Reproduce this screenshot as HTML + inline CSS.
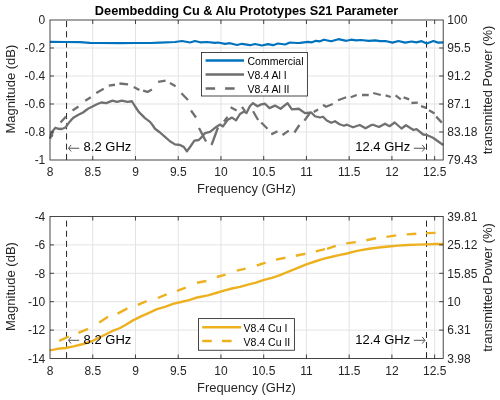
<!DOCTYPE html><html><head><meta charset="utf-8"><style>html,body{margin:0;padding:0;background:#fff;width:500px;height:400px;overflow:hidden}svg{display:block;will-change:transform}</style></head><body>
<svg width="500" height="400" viewBox="0 0 500 400" font-family="'Liberation Sans', sans-serif">
<rect width="500" height="400" fill="#fff"/>
<line x1="92.74" y1="20.0" x2="92.74" y2="160.0" stroke="#e3e3e3" stroke-width="1"/>
<line x1="135.48" y1="20.0" x2="135.48" y2="160.0" stroke="#e3e3e3" stroke-width="1"/>
<line x1="178.22" y1="20.0" x2="178.22" y2="160.0" stroke="#e3e3e3" stroke-width="1"/>
<line x1="220.96" y1="20.0" x2="220.96" y2="160.0" stroke="#e3e3e3" stroke-width="1"/>
<line x1="263.69" y1="20.0" x2="263.69" y2="160.0" stroke="#e3e3e3" stroke-width="1"/>
<line x1="306.43" y1="20.0" x2="306.43" y2="160.0" stroke="#e3e3e3" stroke-width="1"/>
<line x1="349.17" y1="20.0" x2="349.17" y2="160.0" stroke="#e3e3e3" stroke-width="1"/>
<line x1="391.91" y1="20.0" x2="391.91" y2="160.0" stroke="#e3e3e3" stroke-width="1"/>
<line x1="434.65" y1="20.0" x2="434.65" y2="160.0" stroke="#e3e3e3" stroke-width="1"/>
<line x1="50.0" y1="48.00" x2="443.2" y2="48.00" stroke="#e3e3e3" stroke-width="1"/>
<line x1="50.0" y1="76.00" x2="443.2" y2="76.00" stroke="#e3e3e3" stroke-width="1"/>
<line x1="50.0" y1="104.00" x2="443.2" y2="104.00" stroke="#e3e3e3" stroke-width="1"/>
<line x1="50.0" y1="132.00" x2="443.2" y2="132.00" stroke="#e3e3e3" stroke-width="1"/>
<line x1="92.74" y1="216.5" x2="92.74" y2="358.5" stroke="#e3e3e3" stroke-width="1"/>
<line x1="135.48" y1="216.5" x2="135.48" y2="358.5" stroke="#e3e3e3" stroke-width="1"/>
<line x1="178.22" y1="216.5" x2="178.22" y2="358.5" stroke="#e3e3e3" stroke-width="1"/>
<line x1="220.96" y1="216.5" x2="220.96" y2="358.5" stroke="#e3e3e3" stroke-width="1"/>
<line x1="263.69" y1="216.5" x2="263.69" y2="358.5" stroke="#e3e3e3" stroke-width="1"/>
<line x1="306.43" y1="216.5" x2="306.43" y2="358.5" stroke="#e3e3e3" stroke-width="1"/>
<line x1="349.17" y1="216.5" x2="349.17" y2="358.5" stroke="#e3e3e3" stroke-width="1"/>
<line x1="391.91" y1="216.5" x2="391.91" y2="358.5" stroke="#e3e3e3" stroke-width="1"/>
<line x1="434.65" y1="216.5" x2="434.65" y2="358.5" stroke="#e3e3e3" stroke-width="1"/>
<line x1="50.0" y1="244.90" x2="443.2" y2="244.90" stroke="#e3e3e3" stroke-width="1"/>
<line x1="50.0" y1="273.30" x2="443.2" y2="273.30" stroke="#e3e3e3" stroke-width="1"/>
<line x1="50.0" y1="301.70" x2="443.2" y2="301.70" stroke="#e3e3e3" stroke-width="1"/>
<line x1="50.0" y1="330.10" x2="443.2" y2="330.10" stroke="#e3e3e3" stroke-width="1"/>
<line x1="66.55" y1="21.0" x2="66.55" y2="160.0" stroke="#262626" stroke-width="1" stroke-dasharray="6.15 4.07"/>
<line x1="426.5" y1="21.0" x2="426.5" y2="160.0" stroke="#262626" stroke-width="1" stroke-dasharray="6.15 4.07"/>
<line x1="66.55" y1="220.6" x2="66.55" y2="358.5" stroke="#262626" stroke-width="1" stroke-dasharray="6.1 4.02"/>
<line x1="426.5" y1="220.6" x2="426.5" y2="358.5" stroke="#262626" stroke-width="1" stroke-dasharray="6.1 4.02"/>
<polyline points="50.00,41.80 65.00,42.00 80.00,42.20 90.00,42.80 100.00,43.00 120.00,43.20 135.00,43.00 150.00,43.00 160.00,42.60 175.00,42.00 182.00,41.00 190.00,42.50 195.00,41.00 200.00,42.30 207.00,42.00 215.00,42.80 218.00,42.50 225.00,43.80 230.00,43.20 237.00,45.00 242.00,43.80 250.00,45.20 255.00,44.00 262.00,45.50 268.00,44.20 273.00,45.20 278.00,43.50 285.00,44.50 290.00,42.50 297.00,43.00 300.00,42.90 308.00,41.90 312.00,42.30 316.00,40.80 320.00,41.30 324.00,39.70 331.20,41.30 338.40,39.20 346.40,40.80 351.20,39.70 356.00,40.30 360.80,40.00 368.80,40.80 375.20,40.30 380.00,41.20 385.30,41.00 392.50,42.60 398.50,41.00 405.00,42.60 411.70,41.50 416.30,42.30 421.60,41.20 426.80,43.60 433.40,41.00 438.00,42.60 443.20,42.30" fill="none" stroke="#0072BD" stroke-width="2.2" stroke-linejoin="round"/>
<polyline points="50.25,138.75 51.10,133.75 52.00,136.00 52.40,131.25 55.50,127.75 58.00,128.75 61.75,129.00 65.50,127.50 68.60,123.10 73.00,118.10 78.00,115.00 83.00,112.50 88.00,108.75 93.00,106.25 98.00,103.75 101.25,102.50 106.25,103.10 112.50,100.60 116.90,101.90 121.90,100.60 127.50,101.90 131.90,101.25 135.00,106.25 138.75,111.90 145.00,118.10 150.00,121.90 152.50,125.00 155.00,128.75 160.00,132.50 165.00,136.90 170.00,141.25 175.00,144.40 180.00,145.00 183.75,146.90 186.90,151.25 190.60,146.25 194.40,140.60 198.75,140.00 201.90,136.90 205.00,133.10 210.00,131.90 216.25,126.90 220.00,124.60 223.00,126.40 227.50,120.00 232.00,117.60 236.00,120.40 240.00,114.00 244.00,111.60 246.50,113.00 250.00,106.00 253.00,103.20 257.50,106.25 261.25,104.40 265.00,103.75 269.40,108.10 275.00,105.60 280.60,108.75 287.50,103.10 291.90,109.40 298.75,108.75 305.00,113.10 311.25,112.50 315.00,116.25 320.00,117.50 323.00,116.75 326.75,120.50 331.25,122.75 335.00,121.25 339.50,124.25 344.00,125.75 347.00,124.70 353.00,127.25 359.75,125.00 365.50,128.30 371.00,125.20 373.00,124.75 379.00,127.00 385.00,123.70 389.50,126.20 394.70,122.50 401.50,128.50 406.00,125.20 413.50,130.00 416.50,129.20 423.20,134.50 426.20,134.80 433.00,137.80 443.20,145.00" fill="none" stroke="#707070" stroke-width="2.3" stroke-linejoin="round"/>
<path d="M60.50 122.50 L66.00 116.50 M72.50 110.50 L78.50 106.50 M85.20 100.80 L90.80 97.30 M96.25 93.10 L103.75 88.75 M108.75 85.60 L115.00 84.75 M119.40 83.50 L128.10 84.40 M133.75 86.90 L139.40 90.00 M143.10 90.60 L147.50 91.90 L151.90 89.40 M158.10 81.90 L165.60 80.60 M170.00 83.10 L175.60 86.25 M181.40 93.30 L188.00 100.00 M191.00 110.50 L196.00 117.50 M199.00 128.00 L206.00 141.50 M211.50 145.00 L218.00 127.50 M224.00 121.50 L227.50 116.90 M230.60 107.20 L236.60 110.40 M242.00 106.80 L245.00 111.20 M253.10 111.25 L258.10 120.00 M261.25 122.50 L267.50 128.75 M271.25 134.40 L277.50 131.25 M282.50 135.00 L288.75 130.60 M294.40 132.50 L299.40 125.00 M304.40 120.60 L309.40 113.75 M313.75 111.90 L318.10 109.40 M323.00 104.75 L326.00 106.70 L332.75 104.00 M338.00 100.25 L346.25 97.25 M350.75 97.25 L356.75 95.00 M362.00 95.00 L368.75 95.00 M373.20 93.00 L380.80 95.00 M385.60 95.40 L390.80 97.00 M395.60 95.40 L400.80 99.40 M403.60 97.40 L409.20 99.40 M411.40 103.00 L417.80 102.60 M421.00 106.20 L426.20 107.80 M429.00 110.20 L434.60 113.40 M436.20 116.60 L441.80 122.60" fill="none" stroke="#707070" stroke-width="2.3" stroke-linejoin="round"/>
<polyline points="50.00,350.40 57.60,348.80 65.60,348.00 73.60,346.40 83.20,344.00 92.80,340.80 102.40,336.00 112.00,331.20 120.00,328.00 125.00,325.20 133.00,320.40 141.00,316.40 149.00,312.90 157.00,309.20 165.00,306.80 173.00,303.90 181.00,302.00 189.00,300.10 197.00,297.50 208.00,295.40 216.00,293.00 224.00,290.60 232.00,288.50 240.00,286.90 248.00,284.70 256.00,282.60 264.00,279.90 272.00,277.80 280.00,275.10 283.00,273.80 291.00,270.60 299.00,267.40 307.00,264.20 315.00,261.50 323.00,258.90 331.00,257.00 339.00,255.10 347.00,253.50 355.00,251.40 359.60,250.40 369.20,248.80 378.80,247.50 388.50,246.50 398.00,245.60 407.70,245.00 417.30,244.60 426.90,244.40 436.50,244.00 443.20,244.00" fill="none" stroke="#EDB120" stroke-width="2.4" stroke-linejoin="round"/>
<path d="M59.20 340.80 L68.80 336.50 M78.40 332.80 L88.00 328.80 M99.20 322.40 L108.00 316.80 M117.60 313.60 L127.40 308.40 M137.80 304.90 L146.60 301.20 M157.80 298.00 L166.60 294.30 M177.00 290.80 L185.80 287.60 M197.00 282.80 L206.40 281.00 M216.80 277.00 L225.60 274.60 M236.80 270.60 L245.60 268.70 M256.80 265.50 L265.60 262.60 M276.00 259.60 L285.40 257.80 M295.80 255.70 L305.40 253.80 M315.80 251.40 L325.00 249.20 M327.00 248.80 L335.80 245.80 M346.20 243.40 L355.80 242.10 M366.30 240.20 L376.00 238.30 M386.50 236.90 L396.20 235.40 M406.70 234.40 L416.30 233.80 M426.00 233.10 L435.60 232.90" fill="none" stroke="#EDB120" stroke-width="2.4" stroke-linejoin="round"/>
<rect x="50.0" y="20.0" width="393.20" height="140.00" fill="none" stroke="#262626" stroke-width="0.85"/>
<line x1="92.74" y1="160.0" x2="92.74" y2="156.00" stroke="#262626" stroke-width="0.85"/>
<line x1="92.74" y1="20.0" x2="92.74" y2="24.00" stroke="#262626" stroke-width="0.85"/>
<line x1="135.48" y1="160.0" x2="135.48" y2="156.00" stroke="#262626" stroke-width="0.85"/>
<line x1="135.48" y1="20.0" x2="135.48" y2="24.00" stroke="#262626" stroke-width="0.85"/>
<line x1="178.22" y1="160.0" x2="178.22" y2="156.00" stroke="#262626" stroke-width="0.85"/>
<line x1="178.22" y1="20.0" x2="178.22" y2="24.00" stroke="#262626" stroke-width="0.85"/>
<line x1="220.96" y1="160.0" x2="220.96" y2="156.00" stroke="#262626" stroke-width="0.85"/>
<line x1="220.96" y1="20.0" x2="220.96" y2="24.00" stroke="#262626" stroke-width="0.85"/>
<line x1="263.69" y1="160.0" x2="263.69" y2="156.00" stroke="#262626" stroke-width="0.85"/>
<line x1="263.69" y1="20.0" x2="263.69" y2="24.00" stroke="#262626" stroke-width="0.85"/>
<line x1="306.43" y1="160.0" x2="306.43" y2="156.00" stroke="#262626" stroke-width="0.85"/>
<line x1="306.43" y1="20.0" x2="306.43" y2="24.00" stroke="#262626" stroke-width="0.85"/>
<line x1="349.17" y1="160.0" x2="349.17" y2="156.00" stroke="#262626" stroke-width="0.85"/>
<line x1="349.17" y1="20.0" x2="349.17" y2="24.00" stroke="#262626" stroke-width="0.85"/>
<line x1="391.91" y1="160.0" x2="391.91" y2="156.00" stroke="#262626" stroke-width="0.85"/>
<line x1="391.91" y1="20.0" x2="391.91" y2="24.00" stroke="#262626" stroke-width="0.85"/>
<line x1="434.65" y1="160.0" x2="434.65" y2="156.00" stroke="#262626" stroke-width="0.85"/>
<line x1="434.65" y1="20.0" x2="434.65" y2="24.00" stroke="#262626" stroke-width="0.85"/>
<line x1="50.0" y1="48.00" x2="54.00" y2="48.00" stroke="#262626" stroke-width="0.85"/>
<line x1="443.2" y1="48.00" x2="439.20" y2="48.00" stroke="#262626" stroke-width="0.85"/>
<line x1="50.0" y1="76.00" x2="54.00" y2="76.00" stroke="#262626" stroke-width="0.85"/>
<line x1="443.2" y1="76.00" x2="439.20" y2="76.00" stroke="#262626" stroke-width="0.85"/>
<line x1="50.0" y1="104.00" x2="54.00" y2="104.00" stroke="#262626" stroke-width="0.85"/>
<line x1="443.2" y1="104.00" x2="439.20" y2="104.00" stroke="#262626" stroke-width="0.85"/>
<line x1="50.0" y1="132.00" x2="54.00" y2="132.00" stroke="#262626" stroke-width="0.85"/>
<line x1="443.2" y1="132.00" x2="439.20" y2="132.00" stroke="#262626" stroke-width="0.85"/>
<rect x="50.0" y="216.5" width="393.20" height="142.00" fill="none" stroke="#262626" stroke-width="0.85"/>
<line x1="92.74" y1="358.5" x2="92.74" y2="354.50" stroke="#262626" stroke-width="0.85"/>
<line x1="92.74" y1="216.5" x2="92.74" y2="220.50" stroke="#262626" stroke-width="0.85"/>
<line x1="135.48" y1="358.5" x2="135.48" y2="354.50" stroke="#262626" stroke-width="0.85"/>
<line x1="135.48" y1="216.5" x2="135.48" y2="220.50" stroke="#262626" stroke-width="0.85"/>
<line x1="178.22" y1="358.5" x2="178.22" y2="354.50" stroke="#262626" stroke-width="0.85"/>
<line x1="178.22" y1="216.5" x2="178.22" y2="220.50" stroke="#262626" stroke-width="0.85"/>
<line x1="220.96" y1="358.5" x2="220.96" y2="354.50" stroke="#262626" stroke-width="0.85"/>
<line x1="220.96" y1="216.5" x2="220.96" y2="220.50" stroke="#262626" stroke-width="0.85"/>
<line x1="263.69" y1="358.5" x2="263.69" y2="354.50" stroke="#262626" stroke-width="0.85"/>
<line x1="263.69" y1="216.5" x2="263.69" y2="220.50" stroke="#262626" stroke-width="0.85"/>
<line x1="306.43" y1="358.5" x2="306.43" y2="354.50" stroke="#262626" stroke-width="0.85"/>
<line x1="306.43" y1="216.5" x2="306.43" y2="220.50" stroke="#262626" stroke-width="0.85"/>
<line x1="349.17" y1="358.5" x2="349.17" y2="354.50" stroke="#262626" stroke-width="0.85"/>
<line x1="349.17" y1="216.5" x2="349.17" y2="220.50" stroke="#262626" stroke-width="0.85"/>
<line x1="391.91" y1="358.5" x2="391.91" y2="354.50" stroke="#262626" stroke-width="0.85"/>
<line x1="391.91" y1="216.5" x2="391.91" y2="220.50" stroke="#262626" stroke-width="0.85"/>
<line x1="434.65" y1="358.5" x2="434.65" y2="354.50" stroke="#262626" stroke-width="0.85"/>
<line x1="434.65" y1="216.5" x2="434.65" y2="220.50" stroke="#262626" stroke-width="0.85"/>
<line x1="50.0" y1="244.90" x2="54.00" y2="244.90" stroke="#262626" stroke-width="0.85"/>
<line x1="443.2" y1="244.90" x2="439.20" y2="244.90" stroke="#262626" stroke-width="0.85"/>
<line x1="50.0" y1="273.30" x2="54.00" y2="273.30" stroke="#262626" stroke-width="0.85"/>
<line x1="443.2" y1="273.30" x2="439.20" y2="273.30" stroke="#262626" stroke-width="0.85"/>
<line x1="50.0" y1="301.70" x2="54.00" y2="301.70" stroke="#262626" stroke-width="0.85"/>
<line x1="443.2" y1="301.70" x2="439.20" y2="301.70" stroke="#262626" stroke-width="0.85"/>
<line x1="50.0" y1="330.10" x2="54.00" y2="330.10" stroke="#262626" stroke-width="0.85"/>
<line x1="443.2" y1="330.10" x2="439.20" y2="330.10" stroke="#262626" stroke-width="0.85"/>
<text x="50.00" y="176.0" font-size="12" text-anchor="middle" fill="#262626">8</text>
<text x="92.74" y="176.0" font-size="12" text-anchor="middle" fill="#262626">8.5</text>
<text x="135.48" y="176.0" font-size="12" text-anchor="middle" fill="#262626">9</text>
<text x="178.22" y="176.0" font-size="12" text-anchor="middle" fill="#262626">9.5</text>
<text x="220.96" y="176.0" font-size="12" text-anchor="middle" fill="#262626">10</text>
<text x="263.69" y="176.0" font-size="12" text-anchor="middle" fill="#262626">10.5</text>
<text x="306.43" y="176.0" font-size="12" text-anchor="middle" fill="#262626">11</text>
<text x="349.17" y="176.0" font-size="12" text-anchor="middle" fill="#262626">11.5</text>
<text x="391.91" y="176.0" font-size="12" text-anchor="middle" fill="#262626">12</text>
<text x="434.65" y="176.0" font-size="12" text-anchor="middle" fill="#262626">12.5</text>
<text x="45.3" y="24.30" font-size="12" text-anchor="end" fill="#262626">0</text>
<text x="45.3" y="52.30" font-size="12" text-anchor="end" fill="#262626">-0.2</text>
<text x="45.3" y="80.30" font-size="12" text-anchor="end" fill="#262626">-0.4</text>
<text x="45.3" y="108.30" font-size="12" text-anchor="end" fill="#262626">-0.6</text>
<text x="45.3" y="136.30" font-size="12" text-anchor="end" fill="#262626">-0.8</text>
<text x="45.3" y="164.30" font-size="12" text-anchor="end" fill="#262626">-1</text>
<text x="447.3" y="24.30" font-size="12" fill="#262626">100</text>
<text x="447.3" y="52.30" font-size="12" fill="#262626">95.5</text>
<text x="447.3" y="80.30" font-size="12" fill="#262626">91.2</text>
<text x="447.3" y="108.30" font-size="12" fill="#262626">87.1</text>
<text x="447.3" y="136.30" font-size="12" fill="#262626">83.18</text>
<text x="447.3" y="164.30" font-size="12" fill="#262626">79.43</text>
<text x="246.5" y="193.2" font-size="12.9" text-anchor="middle" fill="#262626">Frequency (GHz)</text>
<text transform="translate(15.0,89.1) rotate(-90)" font-size="13" text-anchor="middle" fill="#262626">Magnitude (dB)</text>
<text transform="translate(491.8,90) rotate(-90)" font-size="13" text-anchor="middle" fill="#262626">transmitted Power (%)</text>
<text x="50.00" y="374.9" font-size="12" text-anchor="middle" fill="#262626">8</text>
<text x="92.74" y="374.9" font-size="12" text-anchor="middle" fill="#262626">8.5</text>
<text x="135.48" y="374.9" font-size="12" text-anchor="middle" fill="#262626">9</text>
<text x="178.22" y="374.9" font-size="12" text-anchor="middle" fill="#262626">9.5</text>
<text x="220.96" y="374.9" font-size="12" text-anchor="middle" fill="#262626">10</text>
<text x="263.69" y="374.9" font-size="12" text-anchor="middle" fill="#262626">10.5</text>
<text x="306.43" y="374.9" font-size="12" text-anchor="middle" fill="#262626">11</text>
<text x="349.17" y="374.9" font-size="12" text-anchor="middle" fill="#262626">11.5</text>
<text x="391.91" y="374.9" font-size="12" text-anchor="middle" fill="#262626">12</text>
<text x="434.65" y="374.9" font-size="12" text-anchor="middle" fill="#262626">12.5</text>
<text x="45.3" y="220.80" font-size="12" text-anchor="end" fill="#262626">-4</text>
<text x="45.3" y="249.20" font-size="12" text-anchor="end" fill="#262626">-6</text>
<text x="45.3" y="277.60" font-size="12" text-anchor="end" fill="#262626">-8</text>
<text x="45.3" y="306.00" font-size="12" text-anchor="end" fill="#262626">-10</text>
<text x="45.3" y="334.40" font-size="12" text-anchor="end" fill="#262626">-12</text>
<text x="45.3" y="362.80" font-size="12" text-anchor="end" fill="#262626">-14</text>
<text x="447.3" y="220.80" font-size="12" fill="#262626">39.81</text>
<text x="447.3" y="249.20" font-size="12" fill="#262626">25.12</text>
<text x="447.3" y="277.60" font-size="12" fill="#262626">15.85</text>
<text x="447.3" y="306.00" font-size="12" fill="#262626">10</text>
<text x="447.3" y="334.40" font-size="12" fill="#262626">6.31</text>
<text x="447.3" y="362.80" font-size="12" fill="#262626">3.98</text>
<text x="246.5" y="392.2" font-size="12.9" text-anchor="middle" fill="#262626">Frequency (GHz)</text>
<text transform="translate(15.0,286.55) rotate(-90)" font-size="13" text-anchor="middle" fill="#262626">Magnitude (dB)</text>
<text transform="translate(491.8,287.45) rotate(-90)" font-size="13" text-anchor="middle" fill="#262626">transmitted Power (%)</text>
<text x="246.6" y="14.7" font-size="12.75" font-weight="bold" text-anchor="middle" fill="#000">Deembedding Cu &amp; Alu Prototypes S21 Parameter</text>
<path d="M68.9 148.25 H79.2 M71.1 144.95 L68.5 148.25 L71.1 151.45" fill="none" stroke="#262626" stroke-width="0.8"/>
<text x="83.6" y="151.3" font-size="13" fill="#000">8.2 GHz</text>
<text x="355.3" y="151.3" font-size="13" fill="#000">12.4 GHz</text>
<path d="M413.9 148.25 H424.6 M422.2 144.9 L425.0 148.25 L422.2 151.55" fill="none" stroke="#262626" stroke-width="0.8"/>
<path d="M68.9 340.3 H79.2 M71.1 337.0 L68.5 340.3 L71.1 343.5" fill="none" stroke="#262626" stroke-width="0.8"/>
<text x="83.6" y="343.9" font-size="13" fill="#000">8.2 GHz</text>
<text x="355.3" y="343.9" font-size="13" fill="#000">12.4 GHz</text>
<path d="M413.9 340.3 H424.6 M422.2 336.95 L425.0 340.3 L422.2 343.6" fill="none" stroke="#262626" stroke-width="0.8"/>
<rect x="201.5" y="52.5" width="105.90" height="43.50" fill="#fff" stroke="#262626" stroke-width="0.85"/>
<line x1="205.6" y1="60.6" x2="244" y2="60.6" stroke="#0072BD" stroke-width="2.5"/>
<text x="247.5" y="65.10" font-size="10.5" fill="#000">Commercial</text>
<line x1="205.6" y1="74.5" x2="244" y2="74.5" stroke="#6c6c6c" stroke-width="2.5"/>
<text x="247.5" y="79.00" font-size="10.5" fill="#000">V8.4 Al I</text>
<line x1="205.6" y1="88.5" x2="244" y2="88.5" stroke="#6c6c6c" stroke-width="2.5" stroke-dasharray="9.5 10"/>
<text x="247.5" y="93.00" font-size="10.5" fill="#000">V8.4 Al II</text>
<rect x="198.5" y="318.6" width="95.90" height="31.65" fill="#fff" stroke="#262626" stroke-width="0.85"/>
<line x1="202.2" y1="327.25" x2="241.2" y2="327.25" stroke="#EDB120" stroke-width="2.5"/>
<text x="243.6" y="331.75" font-size="10.5" fill="#000">V8.4 Cu I</text>
<line x1="202.2" y1="341" x2="241.2" y2="341" stroke="#EDB120" stroke-width="2.5" stroke-dasharray="9.6 10.2"/>
<text x="243.6" y="345.50" font-size="10.5" fill="#000">V8.4 Cu II</text>
</svg></body></html>
